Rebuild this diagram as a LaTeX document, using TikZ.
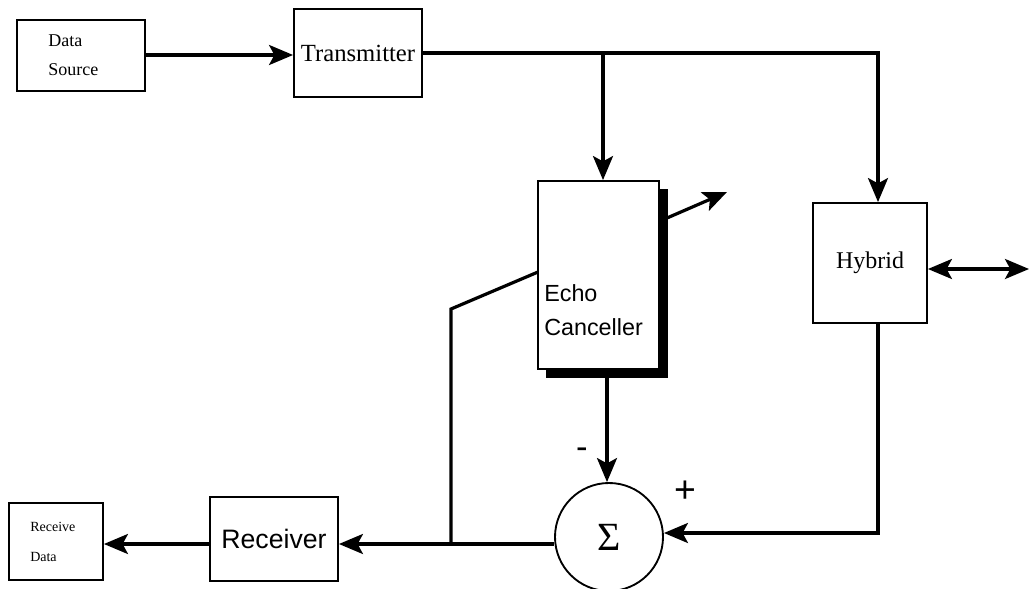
\documentclass[tikz,border=0pt]{standalone}
\usepackage{fontspec}
\setmainfont{Liberation Serif}
\newfontfamily\helv{Liberation Sans}
\usetikzlibrary{arrows.meta}
\begin{document}
\begin{tikzpicture}[x=0.75pt,y=-0.75pt,
  blk/.style={draw,line width=1.4pt,rectangle,inner sep=0pt},
  wire/.style={line width=2.4pt},
  arr/.style={wire,-{Stealth[length=18pt,width=15pt,inset=4pt]}},
  darr/.style={wire,{Stealth[length=18pt,width=15pt,inset=4pt]}-{Stealth[length=18pt,width=15pt,inset=4pt]}},
  lbl/.style={inner sep=0pt}]
\useasboundingbox (0,0) rectangle (1029,589);
\begin{scope}
\clip (0,0) rectangle (1029,589);
% boxes
\node[blk,minimum width=96pt,minimum height=53.25pt] (ds) at (81,55.5) {};
\node[lbl,anchor=west,align=left,font=\fontsize{13.5}{22}\selectfont] (dst) at (48,55.5) {Data\\Source};
\node[blk,minimum width=96pt,minimum height=66pt,font=\fontsize{18.5}{20}\selectfont] (tx) at (358,53) {Transmitter};
\fill (546,189) rectangle (668,378);
\node[blk,fill=white,minimum width=90.75pt,minimum height=141pt] (ec) at (598.5,275) {};
\node[lbl,anchor=west,align=left,font=\helv\fontsize{17.5}{25.5}\selectfont] (ect) at (544,310) {Echo\\Canceller};
\node[blk,minimum width=85.5pt,minimum height=90pt,font=\fontsize{18}{20}\selectfont] (hy) at (870,263) {Hybrid};
\node[blk,circle,minimum size=81pt,font=\fontsize{30}{32}\selectfont] (sum) at (609,537) {Σ};
\node[blk,minimum width=96pt,minimum height=63pt,font=\helv\fontsize{20}{22}\selectfont] (rx) at (274,539) {Receiver};
\node[blk,minimum width=70.5pt,minimum height=57.75pt] (rd) at (56,541.5) {};
\node[lbl,anchor=west,align=left,font=\fontsize{10.5}{23}\selectfont] (rdt) at (30,542) {Receive\\Data};
\node[lbl,font=\helv\fontsize{26}{28}\selectfont] (minus) at (582,453) {-};
\node[lbl,font=\helv\fontsize{28}{30}\selectfont] (plus) at (685,492) {+};
% coordinates
\coordinate (txr) at (878,53);
\coordinate (br) at (603,53);
\coordinate (hyb) at (878,322);
\coordinate (hyc) at (878,533);
\coordinate (fb1) at (451,544);
\coordinate (fb2) at (451,309);
\coordinate (fb3) at (538,272);
\coordinate (eo1) at (667,218);
\coordinate (eo2) at (727,192);
\coordinate (line) at (1029,269);
\coordinate (ecb) at (607,369);
% connectors
\draw[arr] (ds.east |- 0,55) -- (tx.west |- 0,55);
\draw[arr] (tx.east) -- (txr) -- (txr |- hy.north);
\draw[arr] (br) -- (br |- ec.north);
\draw[darr] (hy.east |- line) -- (line);
\draw[arr] (hyb) -- (hyc) -- (hyc -| sum.east);
\draw[arr] (ecb |- 0,378) -- (ecb |- sum.north);
\draw[arr] (sum.west |- 0,544) -- (rx.east |- 0,544);
\draw[arr] (rx.west |- 0,544) -- (rd.east |- 0,544);
\draw[wire] (fb1) -- (fb2) -- (fb3);
\draw[arr] (eo1) -- (eo2);
\end{scope}
\end{tikzpicture}
\end{document}
